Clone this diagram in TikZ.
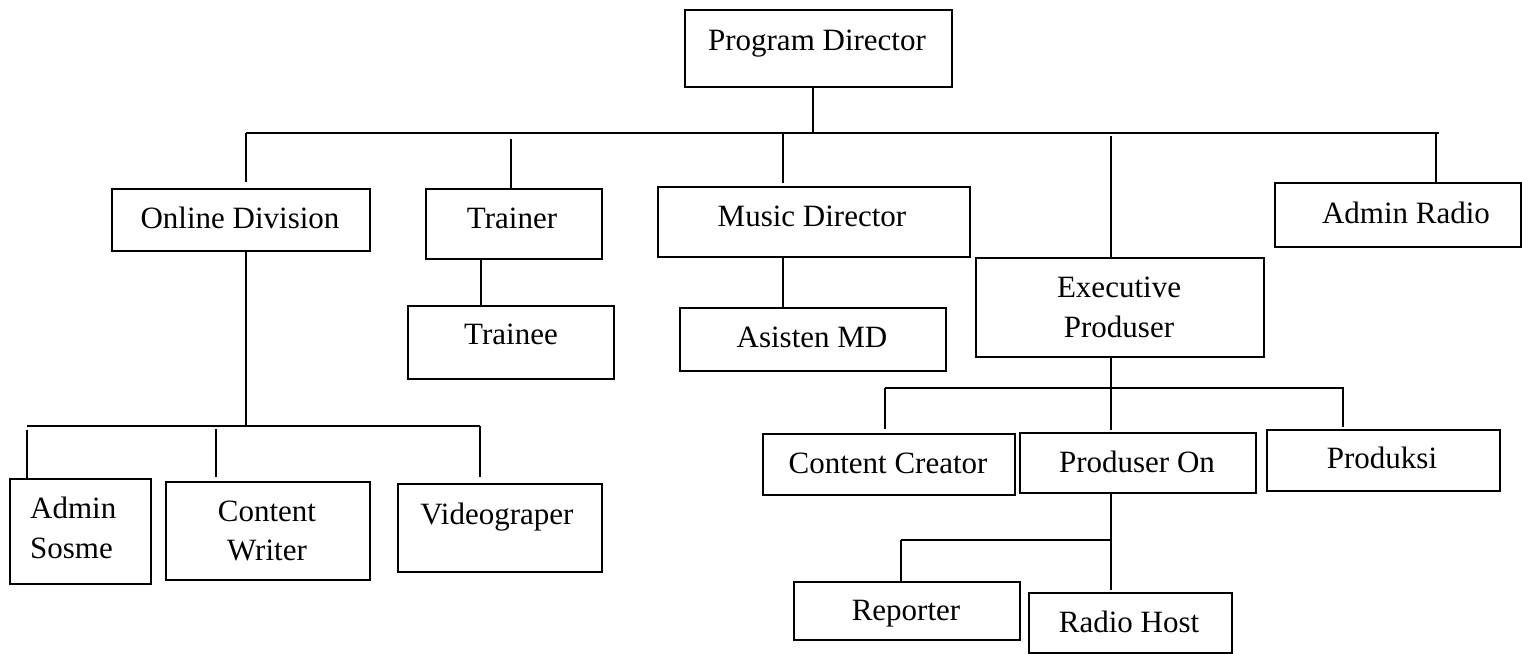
\documentclass[tikz,border=0pt]{standalone}
\usepackage{fontspec}
\setmainfont{Liberation Serif}
\begin{document}
\begin{tikzpicture}[x=1pt,y=-1pt,
  box/.style={draw,line width=1.5pt,inner sep=0pt,anchor=north west},
  lbl/.style={anchor=base,inner sep=0pt,font=\fontsize{31}{40}\selectfont},
  conn/.style={line width=1.5pt}]
\useasboundingbox (0,0) rectangle (1522,653);
% boxes: \bx{name}{x1}{y1}{x2}{y2}
\newcommand\bx[5]{\node[box,minimum width=#4-#2,minimum height=#5-#3] (#1) at (#2,#3) {};}
\bx{pd}{684}{9}{951}{86}
\bx{od}{111}{188}{369}{250}
\bx{tr}{425}{188}{601}{258}
\bx{md}{657}{186}{969}{256}
\bx{ar}{1274}{182}{1520}{246}
\bx{ep}{975}{257}{1263}{356}
\bx{te}{407}{305}{613}{378}
\bx{am}{679}{307}{945}{370}
\bx{as}{9}{478}{150}{583}
\bx{cw}{165}{481}{369}{579}
\bx{vg}{397}{483}{601}{571}
\bx{cc}{762}{433}{1014}{494}
\bx{po}{1019}{432}{1255}{492}
\bx{ps}{1266}{429}{1499}{490}
\bx{rp}{793}{581}{1019}{639}
\bx{rh}{1028}{592}{1231}{652}
% labels
\node[lbl] (pdT) at (817,50) {Program Director};
\node[lbl] (odT) at (240,228) {Online Division};
\node[lbl] (trT) at (512,228) {Trainer};
\node[lbl] (mdT) at (812,226) {Music Director};
\node[lbl] (arT) at (1406,223) {Admin Radio};
\node[lbl] (epT1) at (1119,297) {Executive};
\node[lbl] (epT2) at (1119,337) {Produser};
\node[lbl] (teT) at (511,344) {Trainee};
\node[lbl] (amT) at (812,347) {Asisten MD};
\node[lbl,anchor=base west] (asT1) at (30,518) {Admin};
\node[lbl,anchor=base west] (asT2) at (30,558) {Sosme};
\node[lbl] (cwT1) at (267,521) {Content};
\node[lbl] (cwT2) at (267,560) {Writer};
\node[lbl] (vgT) at (497,524) {Videograper};
\node[lbl] (ccT) at (888,473) {Content Creator};
\node[lbl] (poT) at (1137,472) {Produser On};
\node[lbl] (psT) at (1382,468) {Produksi};
\node[lbl] (rpT) at (906,620) {Reporter};
\node[lbl] (rhT) at (1129,632) {Radio Host};
% bus coordinates
\coordinate (b1) at (813,133);
\coordinate (b1L) at (246,133);
\coordinate (b1R) at (1439,133);
\coordinate (b2) at (246,426);
\coordinate (b2L) at (27,426);
\coordinate (b2R) at (480,426);
\coordinate (b3) at (1111,388);
\coordinate (b3L) at (885,388);
\coordinate (b3R) at (1344,388);
\coordinate (b4) at (1111,540);
\coordinate (b4L) at (901,540);
% connectors
\draw[conn] (pd.south -| b1) -- (b1);
\draw[conn] (b1L) -- (b1R);
\draw[conn] (b1L) -- (246,182);
\draw[conn] (511,139) -- (511,0 |- tr.north);
\draw[conn] (783,133) -- (783,183);
\draw[conn] (1111,136) -- (1111,0 |- ep.north);
\draw[conn] (1436,133) -- (1436,0 |- ar.north);
\draw[conn] (481,0 |- tr.south) -- (481,0 |- te.north);
\draw[conn] (783,0 |- md.south) -- (783,0 |- am.north);
\draw[conn] (246,0 |- od.south) -- (b2);
\draw[conn] (b2L) -- (b2R);
\draw[conn] (27,430) -- (27,0 |- as.north);
\draw[conn] (216,429) -- (216,477);
\draw[conn] (b2R) -- (480,477);
\draw[conn] (b3 |- ep.south) -- (b3);
\draw[conn] (b3L) -- (b3R);
\draw[conn] (b3L) -- (885,429);
\draw[conn] (b3) -- (1111,430);
\draw[conn] (1343,388) -- (1343,427);
\draw[conn] (b4 |- po.south) -- (1111,590);
\draw[conn] (b4L) -- (b4);
\draw[conn] (b4L) -- (901,0 |- rp.north);
\end{tikzpicture}
\end{document}
